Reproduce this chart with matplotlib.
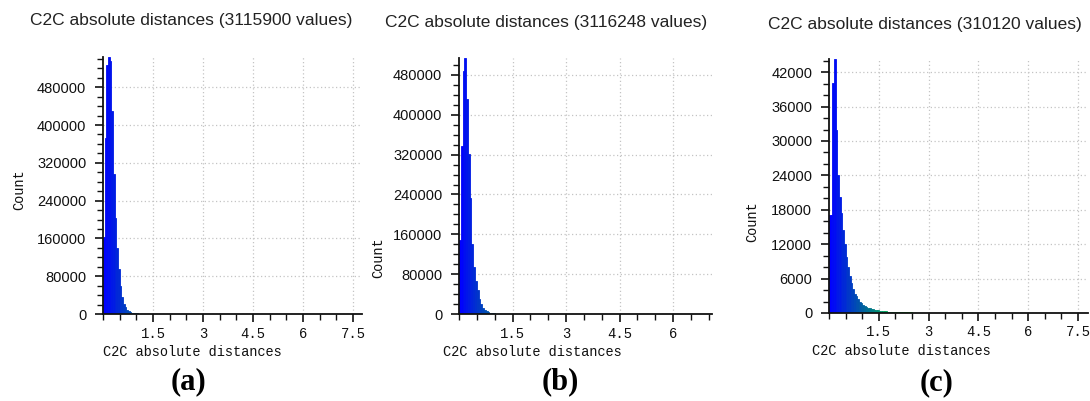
import numpy as np
import matplotlib
matplotlib.use("Agg")
import matplotlib.pyplot as plt
from matplotlib.colors import LinearSegmentedColormap
from matplotlib.ticker import FixedLocator, MultipleLocator, FuncFormatter

# ---------------- data ----------------
titles = ["C2C absolute distances (3115900 values)",
          "C2C absolute distances (3116248 values)",
          "C2C absolute distances (310120 values)"]
panel_labels = ["(a)", "(b)", "(c)"]
x_label = "C2C absolute distances"
y_label = "Count"

bin_width = 0.05

counts_a = [164000, 372000, 528000, 544000, 536000, 430000, 297000, 204000,
            140000, 95000, 60000, 35000, 22000, 14000, 9000, 6000, 4200, 3000,
            2200, 1600, 1200, 900, 680, 520, 400, 310, 240, 190, 150, 120]
counts_b = [148000, 338000, 488000, 514000, 432000, 322000, 232000, 140000,
            95000, 66000, 48000, 30000, 20000, 13000, 8500, 5500, 3700, 2500,
            1800, 1300, 950, 700, 520, 400, 300, 230, 180, 140, 110, 90]
counts_c = [17100, 17100, 40100, 44300, 31900, 24100, 20200, 17400, 14500,
            12000, 9700, 8000, 6500, 5200, 4100, 3400, 2900, 2500, 2000, 1700,
            1450, 1250, 1080, 930, 820, 720, 640, 570, 510, 460, 410, 370, 340,
            310, 285, 260, 240, 220, 200, 185, 170, 155, 145, 135, 125, 115,
            108, 100, 94, 88, 82, 77, 72, 68, 64, 60, 56, 53, 50, 47, 44]

x_max = [7.77, 7.09, 7.80]
x_ticks_a = [1.5, 3, 4.5, 6, 7.5]
x_ticks_b = [1.5, 3, 4.5, 6]
x_ticks_c = [1.5, 3, 4.5, 6, 7.5]
x_tick_labels_a = ["1.5", "3", "4.5", "6", "7.5"]
x_tick_labels_b = ["1.5", "3", "4.5", "6"]
x_tick_labels_c = ["1.5", "3", "4.5", "6", "7.5"]
y_major = [80000, 80000, 6000]
y_minor = [20000, 20000, 2000]

# ---------------- layout (pixels) ----------------
W, H = 1090, 401
fig = plt.figure(figsize=(W / 100, H / 100), dpi=100)
fig.patch.set_facecolor("white")

def px_rect(l, r, t, b):
    return [l / W, 1 - b / H, (r - l) / W, (b - t) / H]

rects = [px_rect(103, 362, 57, 314), px_rect(459, 712, 58, 314), px_rect(829, 1088, 59, 313)]
title_pos = [(191, 21), (546, 23), (925, 25)]
xlabel_pos = [(103, 352), (443, 352), (812, 351)]
ylabel_pos = [(19, 190), (378, 258), (752, 222)]
plabel_pos = [(188, 382), (560, 382), (937, 383)]

cmap = LinearSegmentedColormap.from_list(
    "bgyr", [(0, "#0000ff"), (1 / 3, "#00ff00"), (2 / 3, "#ffff00"), (1, "#ff0000")])

all_counts = [counts_a, counts_b, counts_c]
all_xt = [x_ticks_a, x_ticks_b, x_ticks_c]
all_xtl = [x_tick_labels_a, x_tick_labels_b, x_tick_labels_c]

for i in range(3):
    ax = fig.add_axes(rects[i])
    counts = np.array(all_counts[i], dtype=float)
    left = np.arange(len(counts)) * bin_width
    cols = cmap(np.clip(left / x_max[i], 0, 1))
    ax.bar(left, counts, width=bin_width, align="edge", color=cols,
           edgecolor=cols, linewidth=0.6, zorder=2)
    ax.set_xlim(0, x_max[i])
    ax.set_ylim(0, counts.max())

    for s in ["top", "right"]:
        ax.spines[s].set_visible(False)
    for s in ["left", "bottom"]:
        ax.spines[s].set_color("#111111")
        ax.spines[s].set_linewidth(1.3)
        ax.spines[s].set_zorder(3)

    ax.xaxis.set_major_locator(FixedLocator(all_xt[i]))
    ax.set_xticklabels(all_xtl[i], family="Liberation Mono", fontsize=10)
    ax.xaxis.set_minor_locator(MultipleLocator(0.5))
    ax.yaxis.set_major_locator(MultipleLocator(y_major[i]))
    ax.yaxis.set_minor_locator(MultipleLocator(y_minor[i]))
    ax.yaxis.set_major_formatter(FuncFormatter(lambda v, p: f"{int(round(v))}"))
    for lab in ax.get_yticklabels():
        lab.set_family("Liberation Sans")
    ax.tick_params(axis="y", which="major", direction="out", length=6, width=1.2,
                   pad=6, labelsize=10.5, colors="#111111")
    ax.tick_params(axis="y", which="minor", direction="out", length=4, width=1.0,
                   colors="#111111")
    ax.tick_params(axis="x", which="major", direction="out", length=6, width=1.2,
                   pad=3, labelsize=10, colors="#111111")
    ax.tick_params(axis="x", which="minor", direction="out", length=4, width=1.0,
                   colors="#111111")
    ax.grid(True, which="major", color="#c4c4c4", linestyle=(0, (1, 2)),
            linewidth=0.9, zorder=0)
    ax.set_axisbelow(True)

    fig.text(title_pos[i][0] / W, 1 - title_pos[i][1] / H, titles[i],
             family="Liberation Sans", fontsize=12.5, color="#222222",
             ha="center", va="center")
    fig.text(xlabel_pos[i][0] / W, 1 - xlabel_pos[i][1] / H, x_label,
             family="Liberation Mono", fontsize=9.8, color="#111111",
             ha="left", va="center")
    fig.text(ylabel_pos[i][0] / W, 1 - ylabel_pos[i][1] / H, y_label,
             family="Liberation Mono", fontsize=9.8, color="#111111",
             ha="center", va="center", rotation=90)
    fig.text(plabel_pos[i][0] / W, 1 - plabel_pos[i][1] / H, panel_labels[i],
             family="Liberation Serif", fontsize=22, fontweight="bold",
             color="black", ha="center", va="center")

fig.savefig("out.png", dpi=100, facecolor="white")
